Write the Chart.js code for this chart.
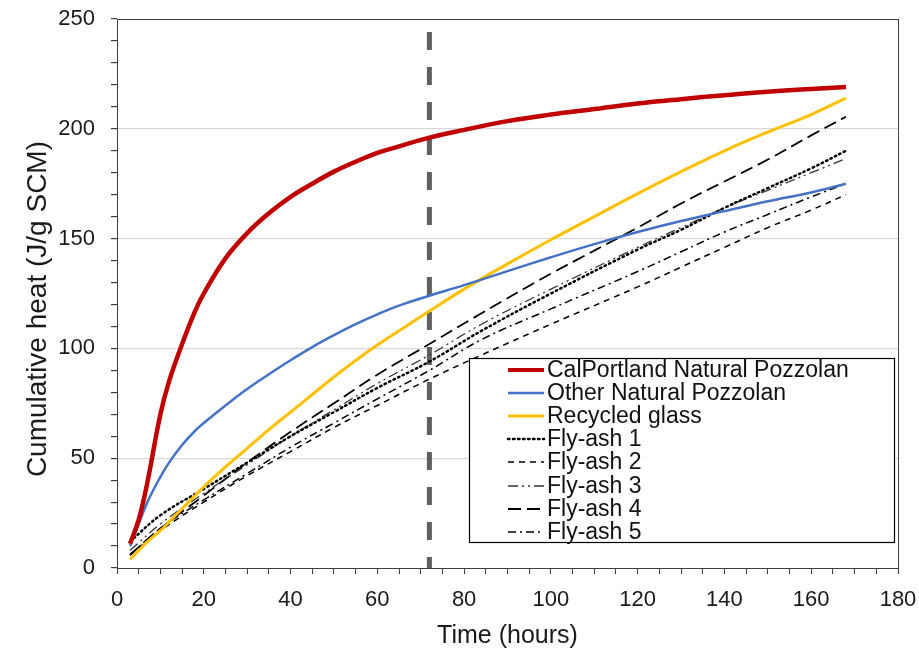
<!DOCTYPE html>
<html>
<head>
<meta charset="utf-8">
<script src="https://cdn.jsdelivr.net/npm/chart.js@4/dist/chart.umd.min.js"></script>
<style>
  html, body { margin: 0; padding: 0; background: #fff; }
  #wrap { width: 919px; height: 649px; }
</style>
</head>
<body>
<div id="wrap"><canvas id="heat" width="919" height="649"></canvas></div>
<script>
// hours sampled for the three main SCMs
const hoursMain = [3, 5, 7, 10, 12, 15, 18, 20, 25, 30, 35, 40, 45, 50, 55, 60, 65, 72, 80, 90, 100, 110, 120, 130, 140, 150, 160, 168];
const calPortland = [11, 22, 39, 70, 85, 102, 117, 125, 141, 152.5, 161.5, 169, 175, 180.5, 185, 189, 192, 196, 199.5, 203.5, 206.5, 209, 211.5, 213.5, 215.3, 216.9, 218.1, 219];
const otherPozzolan = [10, 20, 30, 41.5, 48, 56, 62.5, 66, 74, 81.5, 88.2, 94.6, 100.6, 106, 111, 115.5, 119.5, 124, 128.8, 135.2, 141.5, 147.5, 153, 158, 162.5, 167, 171, 175];
const recycledGlass = [4, 8, 12, 17, 21, 27, 33, 37, 46, 54.5, 63, 71, 79, 87, 94.5, 101.5, 108, 117, 127, 138.5, 149.5, 160, 170.5, 180.5, 190, 198.5, 206.5, 214];

// hours sampled for the fly-ash series
const hoursFly = [3, 10, 20, 30, 40, 50, 60, 72, 84, 100, 120, 130, 140, 150, 160, 168];
const flyAsh1 = [12, 24, 36, 48, 60, 71, 82, 94, 108, 125, 145, 154, 164, 173, 182, 190];
const flyAsh2 = [6, 17, 30, 42, 53, 64, 74, 86, 97, 111, 128, 137, 146, 155, 163, 170];
const flyAsh3 = [8, 20, 34, 47, 60, 72, 84, 97, 111, 127, 146, 155, 164, 172, 180, 186.5];
const flyAsh4 = [6, 18, 33, 48, 62, 75, 88, 102, 116, 134, 155, 166, 176, 186, 197, 205.5];
const flyAsh5 = [6, 18, 31, 43, 55, 66, 77, 90, 104, 118, 135, 144, 153, 161, 169, 175];

const markerHour = 72;
const xTicks = [0, 20, 40, 60, 80, 100, 120, 140, 160, 180];
const yTicks = [0, 50, 100, 150, 200, 250];

const FONT = '"Liberation Sans", Arial, sans-serif';

function pts(xs, ys) {
  return xs.map((x, i) => ({ x, y: ys[i] }));
}

const series = [
  { label: 'CalPortland Natural Pozzolan', xs: hoursMain, ys: calPortland, color: '#c00000', width: 4.5, dash: [] },
  { label: 'Other Natural Pozzolan', xs: hoursMain, ys: otherPozzolan, color: '#4472c4', width: 2.5, dash: [] },
  { label: 'Recycled glass', xs: hoursMain, ys: recycledGlass, color: '#ffc000', width: 3, dash: [] },
  { label: 'Fly-ash 1', xs: hoursFly, ys: flyAsh1, color: '#000000', width: 2.5, dash: [1.5, 3.5] },
  { label: 'Fly-ash 2', xs: hoursFly, ys: flyAsh2, color: '#000000', width: 1.5, dash: [6, 5] },
  { label: 'Fly-ash 3', xs: hoursFly, ys: flyAsh3, color: '#333333', width: 1.3, dash: [10, 4, 2, 4, 2, 4] },
  { label: 'Fly-ash 4', xs: hoursFly, ys: flyAsh4, color: '#000000', width: 1.8, dash: [13, 6] },
  { label: 'Fly-ash 5', xs: hoursFly, ys: flyAsh5, color: '#000000', width: 1.5, dash: [8, 4, 2, 4] },
];

const isDotted = s => s.dash.length > 0 && s.dash[0] < 2;

const datasets = series.map(s => ({
  label: s.label,
  data: pts(s.xs, s.ys),
  borderColor: s.color,
  backgroundColor: s.color,
  borderWidth: s.width,
  borderDash: s.dash,
  borderCapStyle: isDotted(s) ? 'round' : 'butt',
  pointRadius: 0,
  tension: 0.4,
  fill: false,
}));

// vertical dashed marker at 72 h, drawn top to bottom
datasets.push({
  label: '_marker',
  data: [{ x: markerHour, y: 250 }, { x: markerHour, y: 0 }],
  borderColor: '#5f5f5f',
  borderWidth: 5,
  borderDash: [18, 17],
  borderDashOffset: 22,
  pointRadius: 0,
  fill: false,
  order: 10,
});

const frameAndLegend = {
  id: 'frameAndLegend',
  afterDatasetsDraw(chart) {
    const { ctx, chartArea: a } = chart;
    ctx.save();
    ctx.strokeStyle = '#3f3f3f';
    ctx.lineWidth = 1;
    ctx.strokeRect(a.left + 0.5, a.top + 0.5, a.right - a.left, a.bottom - a.top);

    // legend box
    const bx = 469.5, by = 358.5, bw = 425, bh = 184;
    ctx.fillStyle = '#ffffff';
    ctx.fillRect(bx, by, bw, bh);
    ctx.strokeStyle = '#000000';
    ctx.lineWidth = 1.2;
    ctx.strokeRect(bx, by, bw, bh);

    ctx.font = '23px ' + FONT;
    ctx.textBaseline = 'middle';
    ctx.textAlign = 'left';
    series.forEach((s, i) => {
      const y = Math.round(by + 11.5 + i * 23.1);
      ctx.beginPath();
      ctx.strokeStyle = s.color;
      ctx.lineWidth = Math.min(s.width, 4);
      ctx.setLineDash(s.dash);
      ctx.lineCap = isDotted(s) ? 'round' : 'butt';
      ctx.moveTo(508, y);
      ctx.lineTo(544, y);
      ctx.stroke();
      ctx.setLineDash([]);
      ctx.fillStyle = '#111111';
      ctx.fillText(s.label, 547, y + 1);
    });
    ctx.restore();
  },
};

new Chart(document.getElementById('heat'), {
  type: 'line',
  data: { datasets },
  options: {
    responsive: false,
    animation: false,
    layout: { padding: { top: 19, right: 21, left: 0, bottom: 0 } },
    plugins: {
      legend: { display: false },
      tooltip: { enabled: false },
    },
    scales: {
      x: {
        type: 'linear',
        min: 0,
        max: 180,
        afterFit: s => { s.height = 81; s.paddingRight = 0; s.paddingLeft = 0; },
        afterBuildTicks: s => {
          const t = [];
          for (let v = 0; v <= 180; v += 5) t.push({ value: v });
          s.ticks = t;
        },
        ticks: {
          autoSkip: false,
          maxRotation: 0,
          padding: 13,
          color: '#1a1a1a',
          font: { family: FONT, size: 22 },
          callback: v => (xTicks.includes(v) ? String(v) : ''),
        },
        grid: {
          drawOnChartArea: false,
          tickLength: 6,
          tickColor: '#3f3f3f',
        },
        border: { color: '#3f3f3f' },
        title: {
          display: true,
          text: 'Time (hours)',
          color: '#1a1a1a',
          font: { family: FONT, size: 25, lineHeight: 1 },
          padding: 0,
        },
      },
      y: {
        type: 'linear',
        min: 0,
        max: 250,
        afterFit: s => { s.width = 117; s.paddingTop = 0; s.paddingBottom = 0; },
        afterBuildTicks: s => {
          const t = [];
          for (let v = 0; v <= 250; v += 10) t.push({ value: v });
          s.ticks = t;
        },
        ticks: {
          autoSkip: false,
          padding: 16,
          color: '#1a1a1a',
          font: { family: FONT, size: 22 },
          callback: v => (yTicks.includes(v) ? String(v) : ''),
        },
        grid: {
          color: c => (c.tick && c.tick.value % 50 === 0 && c.tick.value > 0 && c.tick.value < 250 ? '#d9d9d9' : 'rgba(0,0,0,0)'),
          lineWidth: 1.2,
          tickLength: 6,
          tickColor: '#3f3f3f',
        },
        border: { color: '#3f3f3f' },
        title: {
          display: true,
          // trailing spaces nudge the rotated title down, as in the original
          text: 'Cumulative heat (J/g SCM)    ',
          color: '#1a1a1a',
          font: { family: FONT, size: 28 },
          padding: 21,
        },
      },
    },
  },
  plugins: [frameAndLegend],
});
</script>
</body>
</html>
